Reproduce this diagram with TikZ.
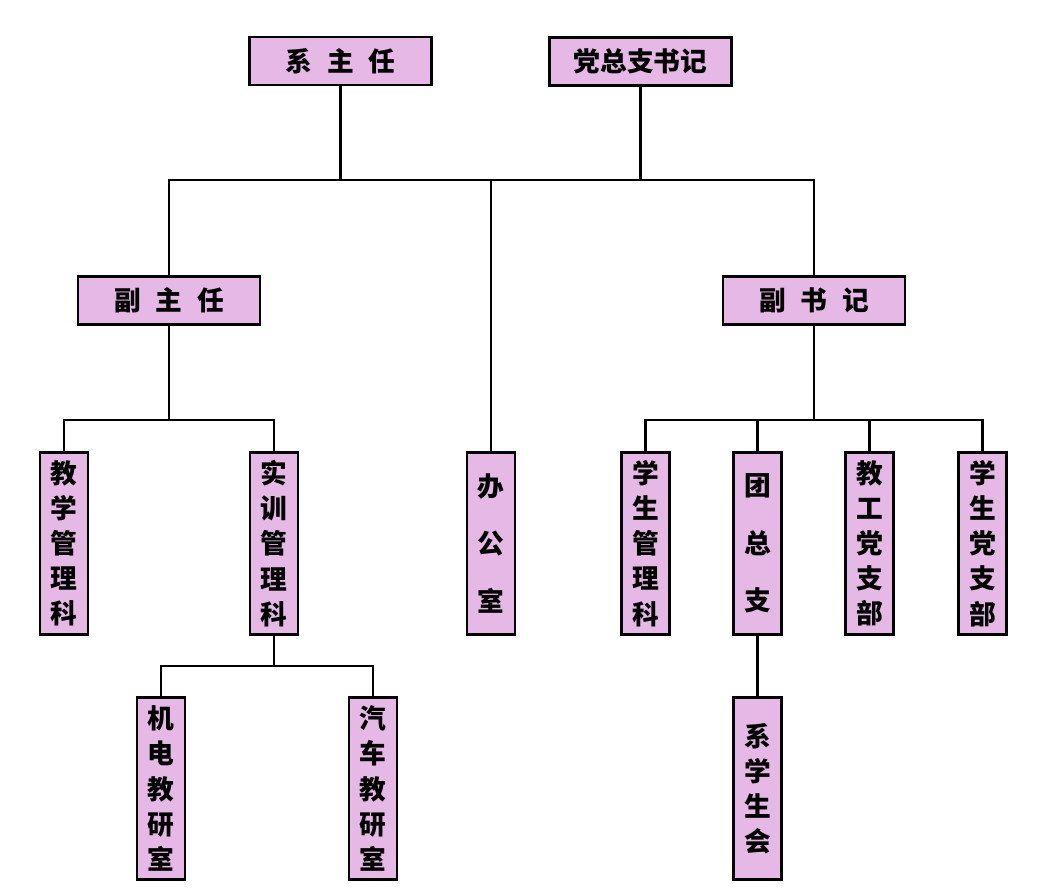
\documentclass[tikz,border=0pt]{standalone}
\usepackage{fontspec}
\setmainfont{Noto Sans CJK SC}[BoldFont={Noto Sans CJK SC Black}]
\usepackage{xcolor}
\usepackage{tikz}
\usetikzlibrary{positioning, calc}
\definecolor{boxpink}{HTML}{E6B8E6}
\tikzset{
  hbox/.style ={draw, rectangle, line width=2pt, fill=boxpink, minimum width=4.55cm,
                minimum height=1.2cm, inner sep=0pt, font=\fontsize{19}{22}\selectfont\bfseries},
  vbox/.style ={draw, rectangle, line width=2pt, fill=boxpink, minimum width=1.2cm,
                minimum height=4.55cm, inner sep=0pt, align=center,
                font=\fontsize{19}{25}\selectfont\bfseries},
  wide/.style ={font=\fontsize{19}{41}\selectfont\bfseries},
  wire/.style ={line width=1.7pt}
}
\newcommand{\gap}{\hspace{0.55em}}

\begin{document}
\begin{tikzpicture}[x=0.025cm, y=-0.025cm]
  \useasboundingbox (0,0) rectangle (1050,891);

  % top level
  \node[hbox] (xzr) at (340.5,61)  {系\gap 主\gap 任};
  \node[hbox] (dzz) at (640.5,61.5) {党总支书记};

  % second level
  \node[hbox] (fzr) at (169,300.5) {副\gap 主\gap 任};
  \node[hbox] (fsj) at (814,300.5) {副\gap 书\gap 记};

  % departments
  \node[vbox] (jxgl) at (64,543.5)  {教\\学\\管\\理\\科};
  \node[vbox] (sxgl) at (274,543.5) {实\\训\\管\\理\\科};
  \node[vbox, wide] (bgs) at (491,543.5) {办\\公\\室};
  \node[vbox] (xsgl) at (645.5,543.5) {学\\生\\管\\理\\科};
  \node[vbox, wide] (tzz) at (757.5,543.5) {团\\总\\支};
  \node[vbox] (jgdb) at (869.5,543.5) {教\\工\\党\\支\\部};
  \node[vbox] (xsdb) at (982.5,543.5) {学\\生\\党\\支\\部};

  % bottom level
  \node[vbox] (jdjy) at (161,788.5) {机\\电\\教\\研\\室};
  \node[vbox] (qcjy) at (373,788.5) {汽\\车\\教\\研\\室};
  \node[vbox] (xxsh) at (757.5,788.5) {系\\学\\生\\会};

  % connectors
  \coordinate (top) at (491,180);
  \coordinate (lbus) at (169,420);
  \coordinate (rbus) at (814,420);
  \coordinate (sbus) at (274,666);

  \draw[wire] (xzr.south) -- (xzr.south |- top);
  \draw[wire] (dzz.south) -- (dzz.south |- top);
  \draw[wire] (fzr.north) |- (top) -| (fsj.north);
  \draw[wire] (top) -- (bgs.north);

  \draw[wire] (fzr.south) -- (lbus);
  \draw[wire] (jxgl.north) |- (lbus) -| (sxgl.north);

  \draw[wire] (fsj.south) -- (rbus);
  \draw[wire] (xsgl.north) |- (rbus) -| (xsdb.north);
  \draw[wire] (tzz.north) -- (tzz.north |- rbus);
  \draw[wire] (jgdb.north) -- (jgdb.north |- rbus);

  \draw[wire] (sxgl.south) -- (sbus);
  \draw[wire] (jdjy.north) |- (sbus) -| (qcjy.north);

  \draw[wire] (tzz.south) -- (xxsh.north);
\end{tikzpicture}
\end{document}
